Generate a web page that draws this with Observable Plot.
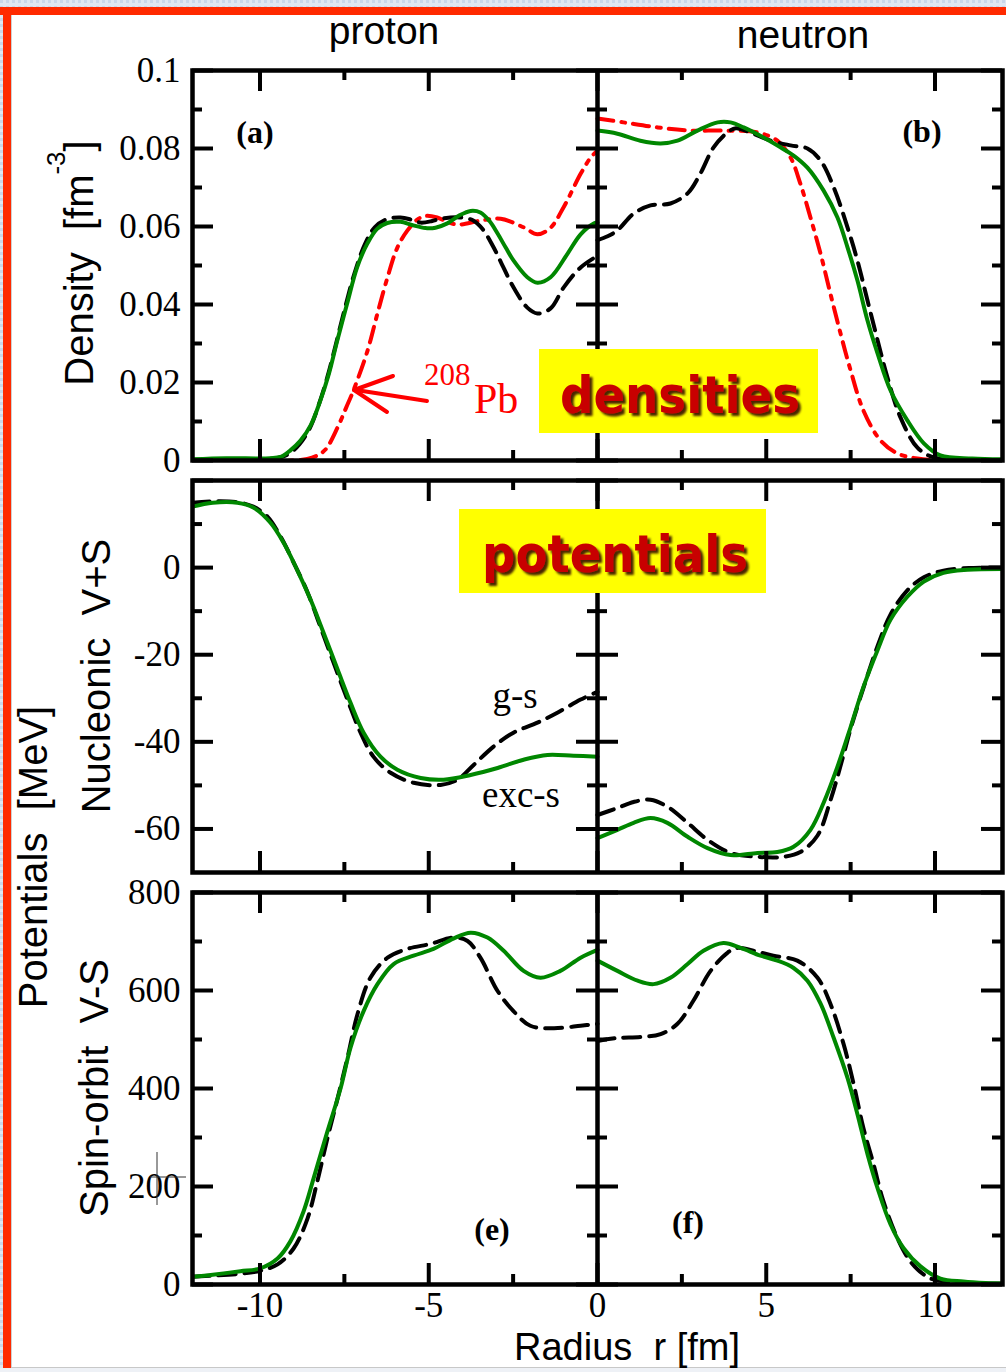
<!DOCTYPE html>
<html>
<head>
<meta charset="utf-8">
<script src="https://cdn.jsdelivr.net/npm/d3@7"></script>
<script src="https://cdn.jsdelivr.net/npm/@observablehq/plot@0.6"></script>
<style>
html,body{margin:0;padding:0;background:#fff;}
#page{position:relative;width:1006px;height:1372px;overflow:hidden;background:#fff;}
.row{position:absolute;left:0;}
#overlay{position:absolute;left:0;top:0;pointer-events:none;}
</style>
</head>
<body>
<div id="page"></div>
<script>
// ---------- axes / ticks ----------
const xDomain = [-12, 12];
const xMajorTicks = [-10, -5, 0, 5, 10];
const xMinorTicks = [-7.5, -2.5, 2.5, 7.5];
const xTickLabels = ["-10", "-5", "0", "5", "10"];

const densityDomain = [0, 0.1];
const densityMajor = [0, 0.02, 0.04, 0.06, 0.08, 0.1];
const densityMinor = [0.01, 0.03, 0.05, 0.07, 0.09];
const densityTickLabels = ["0", "0.02", "0.04", "0.06", "0.08", "0.1"];

const vsDomain = [-70, 20];
const vsMajor = [-60, -40, -20, 0, 20];
const vsMinor = [-50, -30, -10, 10];
const vsLabeled = [-60, -40, -20, 0];
const vsTickLabels = ["-60", "-40", "-20", "0"];

const soDomain = [0, 800];
const soMajor = [0, 200, 400, 600, 800];
const soMinor = [100, 300, 500, 700];
const soTickLabels = ["0", "200", "400", "600", "800"];

// ---------- (a) proton densities, r < 0 ----------
const protonDensityExc = [[-12,0.0003],[-11,0.0006],[-10,0.0005],[-9.7,0.0006],[-9.39,0.0009],[-9.1,0.0026],[-8.8,0.0051],[-8.5,0.009],[-8.21,0.0154],[-7.96,0.0222],[-7.71,0.0308],[-7.42,0.0402],[-7.12,0.0496],[-6.82,0.0556],[-6.53,0.0594],[-6.23,0.0609],[-5.84,0.0612],[-5.5,0.0604],[-5.1,0.0596],[-4.8,0.0597],[-4.45,0.0608],[-4.1,0.0628],[-3.76,0.064],[-3.47,0.0636],[-3.2,0.0614],[-2.96,0.0582],[-2.72,0.0546],[-2.49,0.0513],[-2.08,0.047],[-1.78,0.0456],[-1.39,0.047],[-0.89,0.053],[-0.5,0.058],[-0.1,0.0608],[0,0.061]];
const protonDensityGS = [[-12,0.0002],[-10,0.0003],[-9.45,0.0007],[-9.13,0.0018],[-8.83,0.0042],[-8.53,0.0082],[-8.25,0.0145],[-8.0,0.0215],[-7.76,0.0295],[-7.5,0.0385],[-7.2,0.048],[-6.9,0.0553],[-6.6,0.0598],[-6.27,0.0618],[-5.84,0.0623],[-5.5,0.0617],[-5.24,0.061],[-4.9,0.0614],[-4.65,0.062],[-4.06,0.0623],[-3.67,0.0615],[-3.4,0.0593],[-3.1,0.055],[-2.87,0.051],[-2.49,0.0444],[-2.08,0.0392],[-1.78,0.0377],[-1.39,0.039],[-1.0,0.0444],[-0.5,0.0495],[0,0.0525]];
const protonDensityPb = [[-12,0],[-9,0],[-8.6,0.0004],[-8.3,0.0013],[-8.05,0.0029],[-7.7,0.0085],[-7.45,0.0135],[-7.23,0.018],[-6.82,0.028],[-6.52,0.0377],[-6.22,0.047],[-5.93,0.0546],[-5.63,0.059],[-5.35,0.0617],[-5.1,0.0627],[-4.75,0.0623],[-4.4,0.061],[-4.1,0.0605],[-3.47,0.0615],[-2.87,0.062],[-2.19,0.0598],[-1.78,0.058],[-1.39,0.0597],[-1.0,0.065],[-0.5,0.0735],[-0.2,0.0777],[0,0.0795]];

// ---------- (b) neutron densities, r > 0 ----------
const neutronDensityExc = [[0,0.0846],[0.59,0.0838],[1.27,0.082],[1.87,0.0813],[2.37,0.082],[2.96,0.0846],[3.56,0.0867],[3.94,0.0867],[4.33,0.0854],[4.92,0.0828],[5.42,0.0803],[5.81,0.0782],[6.22,0.0751],[6.7,0.0692],[7.11,0.0623],[7.41,0.0546],[7.7,0.0462],[8.0,0.0359],[8.3,0.0274],[8.68,0.018],[9.18,0.0103],[9.67,0.0044],[10.16,0.0013],[11.1,0.0005],[12,0.0003]];
const neutronDensityGS = [[0,0.0565],[0.3,0.0575],[0.59,0.059],[1.07,0.0633],[1.57,0.0654],[2.16,0.0659],[2.67,0.0685],[3.05,0.0736],[3.44,0.0803],[3.85,0.0841],[4.1,0.0852],[4.53,0.0841],[5.13,0.082],[5.72,0.0808],[6.22,0.08],[6.61,0.0769],[7.0,0.07],[7.41,0.0597],[7.7,0.0513],[8.0,0.041],[8.3,0.0308],[8.59,0.0213],[8.98,0.011],[9.48,0.0033],[9.96,0.0008],[11,0.0002],[12,0.0001]];
const neutronDensityPb = [[0,0.0877],[0.77,0.0867],[1.78,0.0854],[2.76,0.0846],[3.73,0.0846],[4.74,0.0841],[5.33,0.082],[5.72,0.0777],[6.01,0.071],[6.31,0.0623],[6.61,0.053],[6.9,0.0428],[7.2,0.0326],[7.5,0.0231],[7.88,0.0128],[8.39,0.0051],[8.89,0.0018],[9.48,0.0005],[10,0.0001],[12,0]];

// ---------- nucleonic V+S ----------
const protonVpSExc = [[-12,14.0],[-11.4,14.9],[-10.67,14.9],[-10.2,13.8],[-9.69,10.3],[-9.3,5.7],[-8.9,-0.5],[-8.5,-7.4],[-8.12,-14.9],[-7.7,-23.4],[-7.32,-31],[-6.93,-37.9],[-6.43,-43.4],[-5.93,-46.4],[-5.24,-48.3],[-4.56,-48.7],[-3.76,-47.6],[-2.96,-46],[-2.19,-44.1],[-1.48,-43],[-0.71,-43.2],[0,-43.4]];
const protonVpSGS = [[-12,14.9],[-11.4,15.2],[-10.67,15],[-10.2,14],[-9.78,11.7],[-9.39,7.1],[-9.0,1.1],[-8.59,-5.7],[-8.21,-13.6],[-7.82,-21.8],[-7.41,-30.3],[-7.02,-37.9],[-6.64,-43.4],[-6.13,-47.1],[-5.45,-49.4],[-4.65,-49.9],[-4.15,-48.7],[-3.67,-45.3],[-3.08,-41.1],[-2.49,-37.9],[-1.78,-35.6],[-1.19,-33.3],[-0.5,-30.3],[0,-28.5]];
const neutronVpSExc = [[0,-62.1],[0.59,-60.2],[1.07,-58.6],[1.57,-57.5],[2.07,-58.6],[2.67,-61.8],[3.26,-64.4],[3.94,-66],[4.74,-65.5],[5.33,-65.3],[5.81,-64.1],[6.31,-60.2],[6.7,-54],[7.11,-45.7],[7.5,-36.6],[7.88,-27.4],[8.3,-18.9],[8.68,-12],[9.18,-6.7],[9.67,-3.2],[10.25,-1.2],[10.96,-0.5],[12,-0.3]];
const neutronVpSGS = [[0,-56.8],[0.59,-55.2],[1.07,-53.8],[1.57,-53.3],[2.07,-54.9],[2.67,-58.6],[3.26,-62.5],[3.94,-65.5],[4.74,-66.4],[5.51,-66.4],[6.01,-65.3],[6.52,-61.5],[6.9,-53.5],[7.29,-43],[7.5,-37],[7.88,-27.6],[8.3,-18],[8.68,-10.8],[9.18,-5.2],[9.67,-2.2],[10.25,-0.7],[11,-0.1],[12,0]];

// ---------- spin-orbit V-S ----------
const protonVmSExc = [[-12,16],[-11.4,20],[-10.58,27],[-9.99,33],[-9.48,53],[-9.1,88],[-8.71,149],[-8.41,217],[-8.0,313],[-7.61,401],[-7.32,483],[-6.93,558],[-6.52,613],[-6.04,654],[-5.45,671],[-4.86,685],[-4.27,706],[-3.76,718],[-3.26,708],[-2.78,681],[-2.19,640],[-1.69,626],[-1.1,640],[-0.5,667],[0,683]];
const protonVmSGS = [[-12,16],[-11.4,18],[-10.58,22],[-10,28],[-9.48,41],[-9.0,74],[-8.59,135],[-8.3,211],[-8.0,299],[-7.7,380],[-7.41,462],[-7.11,552],[-6.73,626],[-6.22,667],[-5.63,685],[-4.95,695],[-4.27,708],[-3.85,701],[-3.47,667],[-2.96,599],[-2.49,558],[-1.99,528],[-1.3,523],[-0.5,528],[0,532]];
const neutronVmSExc = [[0,661],[0.59,640],[1.19,620],[1.66,613],[2.16,626],[2.67,654],[3.14,681],[3.73,697],[4.24,687],[4.83,671],[5.33,661],[5.81,646],[6.22,620],[6.61,573],[7.0,503],[7.41,421],[7.7,348],[8.0,266],[8.3,196],[8.68,123],[9.07,74],[9.57,37],[10.16,12],[10.84,6],[11.5,3],[12,2]];
const neutronVmSGS = [[0,497],[0.59,503],[1.27,505],[1.87,511],[2.37,532],[2.84,579],[3.35,640],[3.85,677],[4.15,687],[4.62,681],[5.21,671],[5.92,661],[6.52,626],[6.9,573],[7.29,491],[7.59,409],[7.88,319],[8.18,245],[8.47,170],[8.89,94],[9.27,47],[9.67,20],[9.96,10],[11,3],[12,2]];

// ---------- styles ----------
const GREEN = "rgb(0,135,0)", RED = "#ff0000", BLACK = "#000";
const solid = {stroke: GREEN, strokeWidth: 4};
const dashed = {stroke: BLACK, strokeWidth: 4, strokeDasharray: "17,9"};
const dashDot = {stroke: RED, strokeWidth: 4, strokeDasharray: "16,8,4,8"};

const page = document.getElementById("page");
const W = 1006, ML = 192, MR = 4;
const toLabel = (ticks, labels) => { const m = new Map(ticks.map((t, i) => [t, labels[i]])); return d => m.get(d); };

function curve(data, style) {
  return Plot.line(data, {x: d => d[0], y: d => d[1], curve: "catmull-rom", clip: true, ...style});
}

function makeRow({top, height, mTop, mBottom, yDomain, yMajor, yMinor, yLabeled, yLabels, lines, bottomAxis}) {
  const innerW = W - ML - MR;
  const innerH = height - mTop - mBottom;
  const MAJ = 21, MIN = 10, TW = 4;
  const tk = {stroke: BLACK, strokeWidth: TW};
  const marks = [
    ...lines,
    Plot.tickX(xMajorTicks, {x: d => d, insetBottom: innerH - MAJ, ...tk}),
    Plot.tickX(xMajorTicks, {x: d => d, insetTop: innerH - MAJ, ...tk}),
    Plot.tickX(xMinorTicks, {x: d => d, insetBottom: innerH - MIN, ...tk}),
    Plot.tickX(xMinorTicks, {x: d => d, insetTop: innerH - MIN, ...tk}),
    Plot.tickY(yMajor, {y: d => d, insetRight: innerW - MAJ, ...tk}),
    Plot.tickY(yMajor, {y: d => d, insetLeft: innerW - MAJ, ...tk}),
    Plot.tickY(yMajor, {y: d => d, insetLeft: innerW / 2 - MAJ, insetRight: innerW / 2 - MAJ, ...tk}),
    Plot.tickY(yMinor, {y: d => d, insetRight: innerW - MIN, ...tk}),
    Plot.tickY(yMinor, {y: d => d, insetLeft: innerW - MIN, ...tk}),
    Plot.tickY(yMinor, {y: d => d, insetLeft: innerW / 2 - MIN, insetRight: innerW / 2 - MIN, ...tk}),
    Plot.ruleX([0], {stroke: BLACK, strokeWidth: 4.5}),
    Plot.frame({stroke: BLACK, strokeWidth: 4.5}),
    Plot.axisY({anchor: "left", ticks: yLabeled, tickSize: 0, tickPadding: 12, tickFormat: toLabel(yLabeled, yLabels), label: null})
  ];
  if (bottomAxis) {
    marks.push(Plot.axisX({anchor: "bottom", ticks: xMajorTicks, tickSize: 0, tickPadding: 8, tickFormat: toLabel(xMajorTicks, xTickLabels), label: null}));
  }
  const svg = Plot.plot({
    width: W, height,
    marginLeft: ML, marginRight: MR, marginTop: mTop, marginBottom: mBottom,
    x: {domain: xDomain, ...(bottomAxis ? {} : {axis: null})},
    y: {domain: yDomain},
    style: {background: "transparent", fontFamily: "'Liberation Serif', 'Times New Roman', serif", fontSize: "35px", color: "black", overflow: "visible"},
    marks
  });
  const div = document.createElement("div");
  div.className = "row";
  div.style.top = top + "px";
  div.appendChild(svg);
  page.appendChild(div);
}

makeRow({
  top: 0, height: 470, mTop: 70, mBottom: 10,
  yDomain: densityDomain, yMajor: densityMajor, yMinor: densityMinor, yLabeled: densityMajor, yLabels: densityTickLabels,
  lines: [
    curve(protonDensityPb, dashDot), curve(neutronDensityPb, dashDot),
    curve(protonDensityGS, dashed), curve(neutronDensityGS, dashed),
    curve(protonDensityExc, solid), curve(neutronDensityExc, solid)
  ]
});
makeRow({
  top: 470, height: 412, mTop: 10, mBottom: 10,
  yDomain: vsDomain, yMajor: vsMajor, yMinor: vsMinor, yLabeled: vsLabeled, yLabels: vsTickLabels,
  lines: [
    curve(protonVpSGS, dashed), curve(neutronVpSGS, dashed),
    curve(protonVpSExc, solid), curve(neutronVpSExc, solid)
  ]
});
makeRow({
  top: 882, height: 490, mTop: 10, mBottom: 88,
  yDomain: soDomain, yMajor: soMajor, yMinor: soMinor, yLabeled: soMajor, yLabels: soTickLabels,
  lines: [
    curve(protonVmSGS, dashed), curve(neutronVmSGS, dashed),
    curve(protonVmSExc, solid), curve(neutronVmSExc, solid)
  ],
  bottomAxis: true
});

// ---------- overlay: frame decoration, titles, annotations ----------
const SANS = "'Liberation Sans', Arial, sans-serif";
const SERIF = "'Liberation Serif', 'Times New Roman', serif";
const BOLDSANS = "'DejaVu Sans', Verdana, sans-serif";
const overlay = `
<svg id="overlay" width="1006" height="1372" viewBox="0 0 1006 1372" xmlns="http://www.w3.org/2000/svg">
  <defs>
    <pattern id="bgpat" width="6" height="6" patternUnits="userSpaceOnUse">
      <rect width="6" height="6" fill="#dfe7f2"/>
      <rect width="3" height="3" fill="#c9d7ea"/>
    </pattern>
    <filter id="shadow" x="-5%" y="-20%" width="115%" height="150%">
      <feDropShadow dx="3" dy="3" stdDeviation="1.2" flood-color="#2a0000" flood-opacity="0.85"/>
    </filter>
  </defs>
  <rect x="0" y="0" width="1006" height="8" fill="url(#bgpat)"/>
  <rect x="0" y="0" width="3" height="1372" fill="url(#bgpat)"/>
  <rect x="0" y="7" width="1006" height="8" fill="#ff2a00"/>
  <rect x="3" y="7" width="8" height="1365" fill="#ff2a00"/>
  <rect x="11" y="15" width="1" height="1357" fill="#d0d0d0"/>
  <rect x="0" y="1368" width="1006" height="4" fill="#eef1f6"/>
  <rect x="11" y="1367" width="995" height="1" fill="#c8c8c8"/>

  <g font-family="${SANS}" fill="#000">
    <text x="384" y="44" font-size="39" text-anchor="middle">proton</text>
    <text x="803" y="48" font-size="39" text-anchor="middle">neutron</text>
    <text transform="translate(93,263) rotate(-90)" font-size="40" text-anchor="middle">Density&#160; [fm<tspan font-size="26" dy="-28">-3</tspan><tspan dy="28">]</tspan></text>
    <text transform="translate(110,676) rotate(-90)" font-size="40" text-anchor="middle">Nucleonic&#160; V+S</text>
    <text transform="translate(108,1088) rotate(-90)" font-size="40" text-anchor="middle">Spin-orbit&#160; V-S</text>
    <text transform="translate(47,857) rotate(-90)" font-size="40" text-anchor="middle">Potentials&#160; [MeV]</text>
    <text x="627" y="1360" font-size="38" text-anchor="middle">Radius&#160; r [fm]</text>
  </g>

  <g font-family="${SERIF}" font-weight="bold" font-size="32" fill="#000" text-anchor="middle">
    <text x="255" y="143">(a)</text>
    <text x="922" y="142">(b)</text>
    <text x="492" y="1240">(e)</text>
    <text x="688" y="1233">(f)</text>
  </g>
  <g font-family="${SERIF}" font-size="37" fill="#000" text-anchor="middle">
    <text x="515" y="708">g-s</text>
    <text x="521" y="807">exc-s</text>
  </g>

  <g fill="${RED}" font-family="${SERIF}">
    <text x="424" y="385" font-size="31">208</text>
    <text x="474" y="413" font-size="42">Pb</text>
  </g>
  <g stroke="${RED}" stroke-width="4" stroke-linecap="round" fill="none">
    <line x1="427" y1="401" x2="356" y2="390"/>
    <line x1="354" y1="390" x2="393" y2="376"/>
    <line x1="354" y1="390" x2="387" y2="412"/>
  </g>

  <rect x="539" y="349" width="279" height="84" fill="#ffff00"/>
  <text x="560" y="413" font-family="${BOLDSANS}" font-weight="bold" font-size="52" fill="#c80000" filter="url(#shadow)" textLength="240" lengthAdjust="spacingAndGlyphs">densities</text>

  <rect x="459" y="509" width="307" height="84" fill="#ffff00"/>
  <text x="482" y="572" font-family="${BOLDSANS}" font-weight="bold" font-size="52" fill="#c80000" filter="url(#shadow)" textLength="266" lengthAdjust="spacingAndGlyphs">potentials</text>

  <g stroke="#333" stroke-width="1" fill="none">
    <line x1="157" y1="1152" x2="157" y2="1205"/>
    <line x1="150" y1="1177" x2="186" y2="1177"/>
  </g>
</svg>`;
page.insertAdjacentHTML("beforeend", overlay);
</script>
</body>
</html>
